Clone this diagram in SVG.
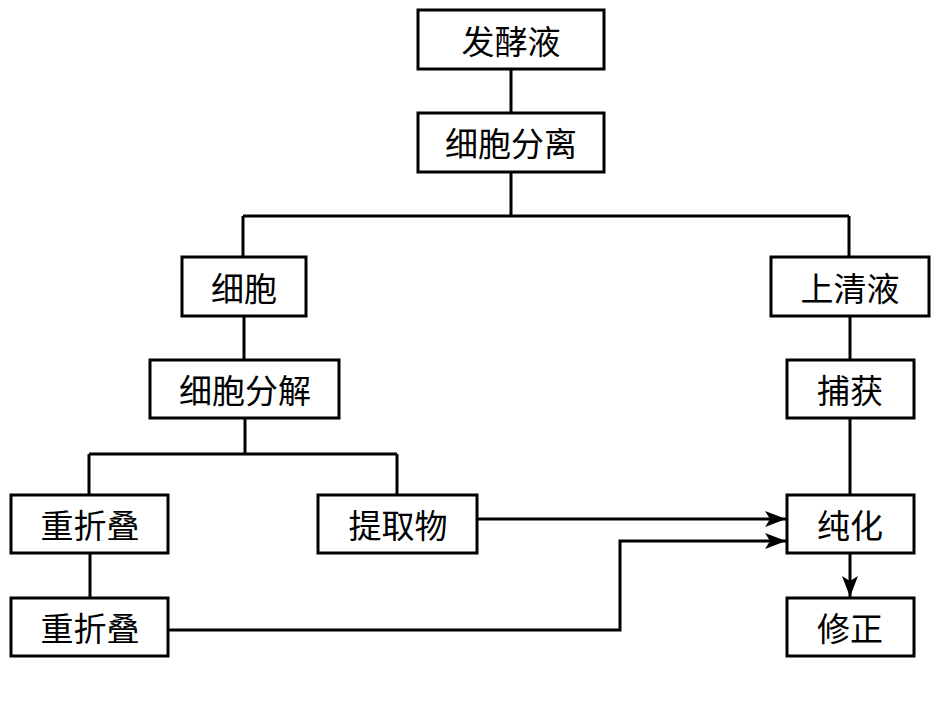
<svg xmlns="http://www.w3.org/2000/svg" width="936" height="716" viewBox="0 0 936 716">
<style>
.box{fill:#fff;stroke:#000;stroke-width:3}
.t{font-family:"Noto Sans CJK SC","Noto Sans CJK JP",sans-serif;font-size:33px;fill:#000;text-anchor:middle;dominant-baseline:central}
.c{fill:none;stroke:#000;stroke-width:3}
</style>
<defs>
<marker id="ah" markerUnits="userSpaceOnUse" markerWidth="22" markerHeight="16" refX="21" refY="8" orient="auto">
<path d="M0,0 L21,8 L0,16 L5,8 z" fill="#000"/>
</marker>
</defs>
<rect width="936" height="716" fill="#fff"/>
<g id="connectors">
<path class="c" d="M511,69 V113"/>
<path class="c" d="M511,172 V216 M243,216 H849 M243,216 V257 M849,216 V257"/>
<path class="c" d="M244,316 V360"/>
<path class="c" d="M850,316 V360"/>
<path class="c" d="M850,418 V495"/>
<path class="c" d="M245,418 V454 M89,454 H397 M89,454 V495 M397,454 V495"/>
<path class="c" d="M90,553 V598"/>
<path class="c" d="M477,519 H786" marker-end="url(#ah)"/>
<path class="c" d="M168,630 H620 V541 H786" marker-end="url(#ah)"/>
<path class="c" d="M850,553 V597" marker-end="url(#ah)"/>
</g>
<g id="n1"><rect class="box" x="418" y="10" width="186" height="59"/><text class="t" x="511" y="40">发酵液</text></g>
<g id="n2"><rect class="box" x="418" y="113" width="186" height="59"/><text class="t" x="511" y="142">细胞分离</text></g>
<g id="n3"><rect class="box" x="182" y="257" width="124" height="59"/><text class="t" x="244" y="287">细胞</text></g>
<g id="n4"><rect class="box" x="771" y="257" width="158" height="59"/><text class="t" x="850" y="287">上清液</text></g>
<g id="n5"><rect class="box" x="150" y="360" width="189" height="58"/><text class="t" x="245" y="389">细胞分解</text></g>
<g id="n6"><rect class="box" x="787" y="360" width="127" height="58"/><text class="t" x="850" y="389">捕获</text></g>
<g id="n7"><rect class="box" x="11" y="495" width="157" height="58"/><text class="t" x="90" y="524">重折叠</text></g>
<g id="n8"><rect class="box" x="318" y="495" width="159" height="58"/><text class="t" x="398" y="524">提取物</text></g>
<g id="n9"><rect class="box" x="787" y="495" width="127" height="58"/><text class="t" x="850" y="524">纯化</text></g>
<g id="n10"><rect class="box" x="11" y="598" width="157" height="58"/><text class="t" x="90" y="627">重折叠</text></g>
<g id="n11"><rect class="box" x="787" y="598" width="127" height="58"/><text class="t" x="850" y="627">修正</text></g>
</svg>
